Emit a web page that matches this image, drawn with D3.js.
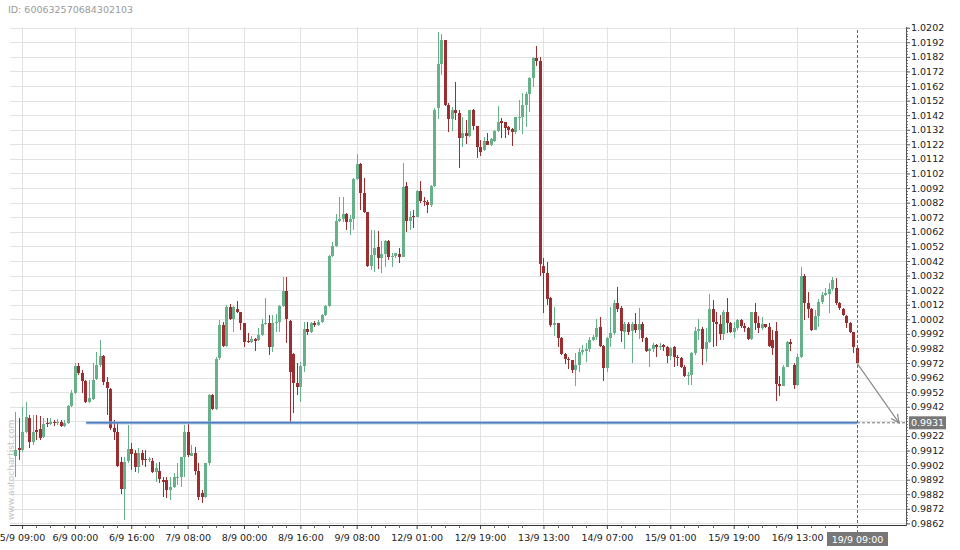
<!DOCTYPE html>
<html><head><meta charset="utf-8">
<script src="https://cdn.jsdelivr.net/npm/d3@7/dist/d3.min.js"></script>
<style>
body{margin:0;background:#fff}
svg{display:block;font-family:"DejaVu Sans",sans-serif}
</style>
</head><body>
<svg id="chart" width="960" height="550"></svg>
<script>
const chartId = "ID: 600632570684302103";
const watermark = "www.autochartist.com";

const opens = [0.99082,0.99137,0.99123,0.99246,0.99342,0.99178,0.99260,0.99267,0.99212,0.99308,0.99302,0.99315,0.99308,0.99315,0.99288,0.99308,0.99425,0.99514,0.99699,0.99651,
0.99596,0.99452,0.99473,0.99610,0.99706,0.99768,0.99589,0.99541,0.99274,0.99246,0.99040,0.98855,0.99047,0.99130,0.99102,0.99006,0.99102,0.99061,0.99054,0.99047,
0.98972,0.98979,0.98917,0.98917,0.98849,0.98869,0.98931,0.98938,0.99075,0.99246,0.99082,0.99102,0.98979,0.98828,0.98801,0.99033,0.99500,0.99404,0.99754,0.99981,
0.99837,1.00104,1.00022,1.00090,1.00069,0.99994,0.99871,0.99864,0.99885,0.99878,0.99912,0.99988,0.99994,0.99830,0.99994,1.00001,1.00111,1.00214,1.00008,0.99782,
0.99583,0.99555,0.99699,0.99953,0.99933,0.99994,0.99981,1.00001,1.00049,1.00111,1.00454,1.00522,1.00694,1.00708,1.00742,1.00687,1.00708,1.00982,1.01085,1.00886,
1.00756,1.00385,1.00461,1.00516,1.00440,1.00468,1.00557,1.00447,1.00454,1.00468,1.00447,1.00934,1.00694,1.00728,1.00721,1.00900,1.00831,1.00824,1.00804,1.00934,
1.01469,1.01771,1.01936,1.01490,1.01394,1.01455,1.01435,1.01263,1.01298,1.01277,1.01455,1.01346,1.01202,1.01181,1.01243,1.01215,1.01243,1.01311,1.01380,1.01373,
1.01339,1.01325,1.01304,1.01401,1.01407,1.01490,1.01565,1.01675,1.01812,1.01792,1.00385,1.00337,1.00166,0.99981,0.99994,0.99892,0.99782,0.99747,0.99740,0.99672,
0.99706,0.99795,0.99802,0.99816,0.99878,0.99899,0.99967,0.99837,0.99686,0.99892,0.99926,1.00131,1.00097,0.99933,0.99988,0.99940,0.99988,0.99946,0.99988,0.99892,
0.99802,0.99816,0.99843,0.99830,0.99843,0.99830,0.99768,0.99830,0.99761,0.99754,0.99692,0.99631,0.99638,0.99788,0.99940,0.99953,0.99816,0.99864,1.00090,1.00001,
0.99988,0.99919,1.00069,0.99994,0.99933,0.99960,1.00015,0.99974,0.99960,0.99885,1.00069,0.99994,0.99960,0.99988,0.99967,0.99878,0.99940,0.99576,0.99562,0.99692,
0.99864,0.99706,0.99569,0.99761,1.00317,1.00131,1.00090,0.99946,1.00042,1.00138,1.00186,1.00193,1.00227,1.00234,1.00131,1.00090,1.00042,0.99994,0.99933,0.99823];

const highs = [0.99383,0.99342,0.99418,0.99452,0.99363,0.99363,0.99363,0.99356,0.99342,0.99342,0.99342,0.99329,0.99336,0.99329,0.99329,0.99432,0.99535,0.99719,0.99719,0.99672,
0.99603,0.99603,0.99719,0.99795,0.99878,0.99775,0.99624,0.99548,0.99329,0.99308,0.99075,0.99075,0.99295,0.99171,0.99123,0.99137,0.99123,0.99123,0.99075,0.99068,
0.99033,0.99040,0.98938,0.98938,0.98938,0.98965,0.99033,0.99075,0.99295,0.99302,0.99158,0.99144,0.99033,0.98849,0.99033,0.99507,0.99507,0.99761,1.00015,1.00001,
1.00118,1.00125,1.00111,1.00145,1.00069,0.99994,0.99926,0.99905,0.99892,0.99960,1.00022,1.00166,1.00049,1.00049,1.00056,1.00118,1.00310,1.00310,1.00015,0.99788,
0.99719,0.99727,1.00001,1.00001,1.00001,1.00008,1.00015,1.00056,1.00118,1.00461,1.00550,1.00742,1.00859,1.00859,1.00749,1.00735,1.00989,1.01154,1.01092,1.00989,
1.00756,1.00632,1.00632,1.00625,1.00557,1.00564,1.00564,1.00475,1.00475,1.00509,1.01092,1.00961,1.00763,1.00769,1.00907,1.00968,1.00859,1.00838,1.00941,1.01469,
1.01990,1.01977,1.01936,1.01503,1.01476,1.01647,1.01455,1.01407,1.01387,1.01455,1.01462,1.01346,1.01250,1.01270,1.01298,1.01263,1.01318,1.01483,1.01401,1.01373,
1.01346,1.01332,1.01407,1.01524,1.01572,1.01579,1.01682,1.01819,1.01894,1.01819,1.00440,1.00413,1.00173,1.00104,0.99994,0.99899,0.99788,0.99761,0.99740,0.99788,
0.99823,0.99843,0.99857,0.99899,0.99912,1.00022,1.00035,0.99843,0.99899,1.00104,1.00152,1.00241,1.00111,1.00001,1.00001,1.00001,1.00063,1.00097,1.00001,0.99899,
0.99823,0.99857,0.99850,0.99857,0.99850,0.99837,0.99830,0.99837,0.99775,0.99761,0.99706,0.99658,0.99795,0.99967,1.00022,0.99967,0.99960,1.00193,1.00152,1.00069,
1.00049,1.00083,1.00166,1.00001,1.00001,1.00022,1.00022,0.99994,0.99967,1.00069,1.00131,1.00042,1.00035,0.99988,0.99994,0.99946,1.00001,0.99631,0.99706,0.99871,
0.99885,0.99719,0.99782,1.00378,1.00330,1.00207,1.00097,1.00083,1.00159,1.00207,1.00234,1.00269,1.00310,1.00303,1.00138,1.00097,1.00049,1.00001,0.99933,0.99830];

const lows = [0.98938,0.99054,0.99109,0.99239,0.99137,0.99158,0.99192,0.99192,0.99205,0.99281,0.99295,0.99288,0.99295,0.99281,0.99281,0.99302,0.99418,0.99507,0.99638,0.99514,
0.99445,0.99445,0.99466,0.99603,0.99692,0.99569,0.99363,0.99260,0.99192,0.99006,0.98822,0.98643,0.99033,0.98986,0.98972,0.98965,0.99020,0.99006,0.99040,0.98965,
0.98903,0.98897,0.98801,0.98794,0.98780,0.98862,0.98883,0.98869,0.98938,0.99075,0.99082,0.98952,0.98780,0.98760,0.98794,0.99020,0.99397,0.99397,0.99740,0.99830,
0.99830,1.00015,0.99933,1.00063,0.99946,0.99830,0.99857,0.99857,0.99802,0.99871,0.99905,0.99981,0.99775,0.99795,0.99933,0.99933,1.00104,0.99857,0.99312,0.99377,
0.99500,0.99452,0.99658,0.99912,0.99926,0.99967,0.99974,0.99994,1.00042,1.00104,1.00447,1.00516,1.00687,1.00687,1.00632,1.00598,1.00632,1.00975,1.00769,1.00749,
1.00378,1.00358,1.00344,1.00365,1.00337,1.00378,1.00426,1.00378,1.00440,1.00406,1.00447,1.00618,1.00632,1.00646,1.00721,1.00817,1.00797,1.00749,1.00790,1.00927,
1.01394,1.01696,1.01483,1.01304,1.01311,1.01387,1.01058,1.01202,1.01222,1.01270,1.01318,1.01126,1.01140,1.01174,1.01215,1.01209,1.01236,1.01304,1.01263,1.01263,
1.01284,1.01209,1.01291,1.01318,1.01291,1.01339,1.01442,1.01613,1.01757,1.00317,1.00063,1.00118,0.99967,0.99905,0.99830,0.99775,0.99713,0.99679,0.99651,0.99562,
0.99658,0.99775,0.99727,0.99795,0.99871,0.99878,0.99830,0.99596,0.99658,0.99830,0.99912,1.00069,0.99864,0.99816,0.99912,0.99719,0.99926,0.99885,0.99864,0.99795,
0.99692,0.99795,0.99761,0.99809,0.99802,0.99719,0.99740,0.99692,0.99699,0.99686,0.99624,0.99569,0.99569,0.99775,0.99878,0.99706,0.99727,0.99857,0.99830,0.99837,
0.99878,0.99878,0.99926,0.99926,0.99892,0.99946,0.99960,0.99933,0.99878,0.99878,0.99946,0.99926,0.99946,0.99960,0.99830,0.99775,0.99459,0.99493,0.99562,0.99692,
0.99802,0.99541,0.99562,0.99754,1.00015,1.00028,0.99940,0.99946,0.99967,1.00125,1.00180,1.00063,1.00214,1.00118,1.00083,1.00042,0.99960,0.99926,0.99788,0.99719];

const closes = [0.99123,0.99123,0.99246,0.99349,0.99178,0.99246,0.99246,0.99205,0.99302,0.99302,0.99315,0.99308,0.99315,0.99288,0.99308,0.99425,0.99514,0.99699,0.99651,0.99596,
0.99452,0.99480,0.99603,0.99706,0.99768,0.99589,0.99548,0.99274,0.99246,0.99013,0.98855,0.99040,0.99130,0.99095,0.99006,0.99102,0.99054,0.99054,0.99061,0.98972,
0.98999,0.98924,0.98903,0.98849,0.98869,0.98938,0.98938,0.99075,0.99246,0.99089,0.99102,0.98979,0.98801,0.98801,0.99033,0.99500,0.99404,0.99747,0.99981,0.99837,
1.00104,1.00022,1.00104,1.00069,0.99994,0.99864,0.99864,0.99885,0.99871,0.99912,0.99988,0.99994,0.99830,0.99994,1.00001,1.00111,1.00214,1.00022,0.99658,0.99583,
0.99555,0.99699,0.99953,0.99933,0.99994,0.99981,1.00001,1.00049,1.00111,1.00454,1.00522,1.00694,1.00708,1.00742,1.00687,1.00708,1.00982,1.01085,1.00886,1.00756,
1.00385,1.00461,1.00509,1.00440,1.00468,1.00557,1.00447,1.00454,1.00475,1.00447,1.00927,1.00694,1.00721,1.00721,1.00900,1.00831,1.00824,1.00804,1.00934,1.01455,
1.01771,1.01936,1.01490,1.01394,1.01455,1.01435,1.01263,1.01298,1.01277,1.01455,1.01346,1.01202,1.01167,1.01243,1.01215,1.01257,1.01311,1.01373,1.01366,1.01332,
1.01318,1.01304,1.01407,1.01407,1.01490,1.01565,1.01675,1.01812,1.01792,1.00399,1.00337,1.00159,0.99981,0.99994,0.99892,0.99782,0.99747,0.99740,0.99672,0.99706,
0.99795,0.99809,0.99816,0.99878,0.99899,0.99960,0.99837,0.99686,0.99892,0.99926,1.00131,1.00090,0.99940,0.99988,0.99933,0.99988,0.99946,0.99988,0.99892,0.99802,
0.99816,0.99843,0.99830,0.99837,0.99830,0.99768,0.99823,0.99761,0.99754,0.99692,0.99631,0.99638,0.99788,0.99940,0.99953,0.99816,0.99864,1.00090,1.00001,0.99988,
0.99919,1.00069,0.99994,0.99933,0.99960,1.00015,0.99974,0.99960,0.99885,1.00069,0.99994,0.99960,0.99988,0.99967,0.99837,0.99823,0.99576,0.99562,0.99692,0.99864,
0.99850,0.99569,0.99761,1.00317,1.00131,1.00090,0.99946,1.00042,1.00138,1.00186,1.00200,1.00227,1.00289,1.00131,1.00097,1.00049,0.99994,0.99933,0.99830,0.99719];

const xTickIndex = [2,17,33,49,65,81,97,114,132,150,168,186,204,222];
const xTickLabels = ["5/9 09:00","6/9 00:00","6/9 16:00","7/9 08:00","8/9 00:00","8/9 16:00","9/9 08:00","12/9 01:00","12/9 19:00","13/9 13:00","14/9 07:00","15/9 01:00","15/9 19:00","16/9 13:00"];
const lastLabel = "19/9 09:00";
const yTickValues = [0.9862,0.9872,0.9882,0.9892,0.9902,0.9912,0.9922,0.9932,0.9942,0.9952,0.9962,0.9972,0.9982,0.9992,1.0002,1.0012,1.0022,1.0032,1.0042,1.0052,1.0062,1.0072,1.0082,1.0092,1.0102,1.0112,1.0122,1.0132,1.0142,1.0152,1.0162,1.0172,1.0182,1.0192,1.0202];
const levelValue = 0.9931;
const levelLabel = "0.9931";
const levelStartIndex = 20.2;

(function () {
const n = closes.length;
const svg = d3.select("#chart");
const pL = 10, pR = 906, pT = 27, pB = 525;
const x = d3.scaleLinear().domain([0, n - 1]).range([15, 857]);
const y = d3.scaleLinear().domain([0.9862, 1.0202]).range([523.4, 27.7]);
const GREEN = "#66b189", RED = "#9b2e31";

svg.append("text").attr("x", 8).attr("y", 13).attr("font-size", 9.5).attr("fill", "#9a9a9a").text(chartId);

const grid = svg.append("g").attr("stroke", "#e2e2e2").attr("stroke-width", 1).attr("shape-rendering", "crispEdges");
grid.selectAll("line.h").data(yTickValues).join("line").attr("class", "h")
  .attr("x1", pL).attr("x2", pR)
  .attr("y1", d => Math.round(y(d)) + 0.5).attr("y2", d => Math.round(y(d)) + 0.5);
grid.selectAll("line.v").data(xTickIndex).join("line").attr("class", "v")
  .attr("x1", d => Math.round(x(d)) + 0.5).attr("x2", d => Math.round(x(d)) + 0.5)
  .attr("y1", pT).attr("y2", pB);

svg.append("text").attr("transform", "translate(14,520) rotate(-90)")
  .attr("font-size", 9).attr("fill", "#c4c4c4").text(watermark);

const yAxisG = svg.append("g").attr("transform", `translate(${pR},0)`)
  .call(d3.axisRight(y).tickValues(yTickValues.filter(v => Math.abs(v - 0.9932) > 1e-6))
    .tickFormat(d3.format(".4f")).tickSize(4).tickSizeOuter(0).tickPadding(1));
yAxisG.select(".domain").remove();
yAxisG.selectAll(".tick line").attr("stroke", "#555");
yAxisG.selectAll(".tick text").attr("font-size", 9.5).attr("fill", "#222").attr("font-family", "DejaVu Sans");
const yMinor = d3.range(0, 171).map(k => 0.9862 + k * 0.0002);
svg.append("g").attr("stroke", "#777").attr("shape-rendering", "crispEdges")
  .selectAll("line").data(yMinor).join("line")
  .attr("x1", pR).attr("x2", pR + 2)
  .attr("y1", d => Math.round(y(d)) + 0.5).attr("y2", d => Math.round(y(d)) + 0.5);
svg.append("line").attr("x1", pR + 0.5).attr("x2", pR + 0.5).attr("y1", pT).attr("y2", pB + 1)
  .attr("stroke", "#555").attr("shape-rendering", "crispEdges");

const xAxisG = svg.append("g").attr("transform", `translate(0,${pB})`)
  .call(d3.axisBottom(x).tickValues(xTickIndex).tickFormat((d, i) => xTickLabels[i]).tickSize(4).tickSizeOuter(0).tickPadding(5));
xAxisG.select(".domain").remove();
xAxisG.selectAll(".tick line").attr("stroke", "#444");
xAxisG.selectAll(".tick text").attr("font-size", 9.5).attr("fill", "#222").attr("font-family", "DejaVu Sans");
svg.append("line").attr("x1", pL).attr("x2", pR).attr("y1", pB + 0.5).attr("y2", pB + 0.5)
  .attr("stroke", "#333").attr("shape-rendering", "crispEdges");
const xMinor = [];
const allMajor = xTickIndex.concat([n - 1]);
for (let m = 0; m < allMajor.length - 1; m++) {
  for (let k = allMajor[m] + 4; k < allMajor[m + 1] - 2; k += 4) xMinor.push(k);
}
svg.append("g").attr("stroke", "#666").attr("shape-rendering", "crispEdges")
  .selectAll("line").data(xMinor).join("line")
  .attr("x1", d => Math.round(x(d)) + 0.5).attr("x2", d => Math.round(x(d)) + 0.5)
  .attr("y1", pB).attr("y2", pB + 3);

const idx = d3.range(n);
const cg = svg.append("g").attr("shape-rendering", "crispEdges");
cg.selectAll("line").data(idx).join("line")
  .attr("x1", i => Math.round(x(i)) + 0.5).attr("x2", i => Math.round(x(i)) + 0.5)
  .attr("y1", i => y(highs[i])).attr("y2", i => y(lows[i]))
  .attr("stroke", i => closes[i] >= opens[i] ? GREEN : RED).attr("stroke-width", 1);
cg.selectAll("rect").data(idx).join("rect")
  .attr("x", i => Math.round(x(i)) - 1).attr("width", 3)
  .attr("y", i => y(Math.max(opens[i], closes[i])))
  .attr("height", i => Math.max(1, Math.abs(y(opens[i]) - y(closes[i]))))
  .attr("fill", i => closes[i] >= opens[i] ? GREEN : RED);

const ly = y(levelValue);
svg.append("line").attr("x1", x(levelStartIndex)).attr("x2", x(n - 1)).attr("y1", ly).attr("y2", ly)
  .attr("stroke", "#8fb0dc").attr("stroke-width", 3.5).attr("opacity", 0.6);
svg.append("line").attr("x1", x(levelStartIndex)).attr("x2", x(n - 1)).attr("y1", ly).attr("y2", ly)
  .attr("stroke", "#4a7cc0").attr("stroke-width", 1.6);
svg.append("line").attr("x1", x(n - 1)).attr("x2", pR).attr("y1", ly).attr("y2", ly)
  .attr("stroke", "#777").attr("stroke-dasharray", "3,2");

const lx = Math.round(x(n - 1)) + 0.5;
svg.append("line").attr("x1", lx).attr("x2", lx).attr("y1", 30).attr("y2", 533)
  .attr("stroke", "#666").attr("stroke-dasharray", "3,2");

const ax0 = x(n - 1), ay0 = y(closes[n - 1]), ax1 = pR - 7, ay1 = ly;
svg.append("line").attr("x1", ax0).attr("y1", ay0).attr("x2", ax1).attr("y2", ay1)
  .attr("stroke", "#8a8a8a").attr("stroke-width", 1.2);
const ang = Math.atan2(ay1 - ay0, ax1 - ax0);
const hl = 9;
const p1 = [ax1 - hl * Math.cos(ang - 0.45), ay1 - hl * Math.sin(ang - 0.45)];
const p2 = [ax1 - hl * Math.cos(ang + 0.45), ay1 - hl * Math.sin(ang + 0.45)];
svg.append("path").attr("d", `M${p1[0]},${p1[1]}L${ax1},${ay1}L${p2[0]},${p2[1]}`)
  .attr("fill", "none").attr("stroke", "#8a8a8a").attr("stroke-width", 1.2);

svg.append("rect").attr("x", 909).attr("y", ly - 6.5).attr("width", 37).attr("height", 13).attr("fill", "#777");
svg.append("text").attr("x", 927.5).attr("y", ly).attr("dy", "0.35em").attr("text-anchor", "middle")
  .attr("font-size", 9.5).attr("fill", "#fff").text(levelLabel);

svg.append("rect").attr("x", lx - 30.5).attr("y", 532).attr("width", 61).attr("height", 14).attr("fill", "#777");
svg.append("text").attr("x", lx).attr("y", 542.5).attr("text-anchor", "middle")
  .attr("font-size", 9.5).attr("fill", "#fff").text(lastLabel);
})();
</script>
</body></html>
